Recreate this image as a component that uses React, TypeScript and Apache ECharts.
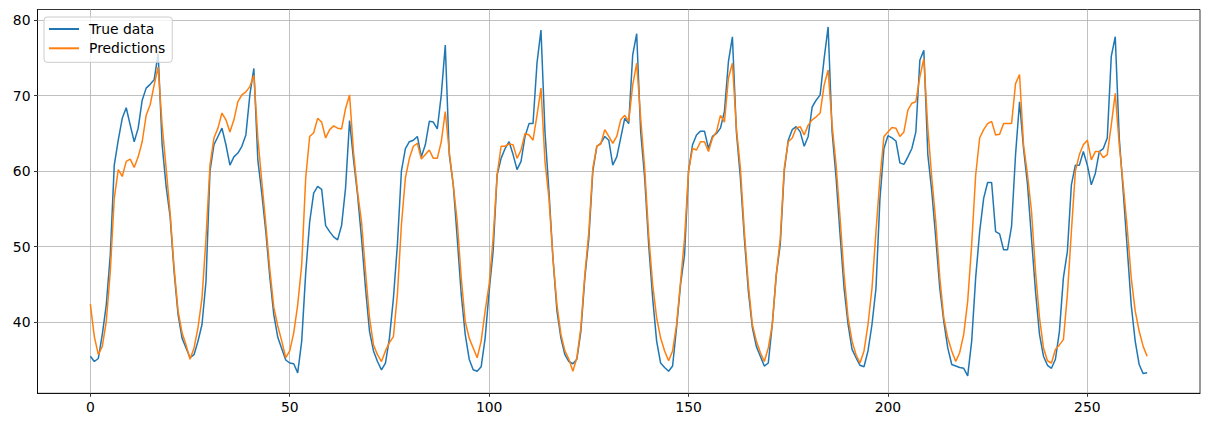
import React, { useEffect, useRef } from "react";
import * as echarts from "echarts";

const seriesNames = ["True data", "Predictions"];

const trueData = [
  35.5, 34.8, 35.2, 38.4, 42.3, 48.9, 60.8, 64.1, 67.0, 68.4,
  66.1, 63.9, 65.7, 69.4, 71.0, 71.5, 72.1, 75.6, 63.5, 58.0,
  54.0, 46.7, 41.0, 37.9, 36.6, 35.3, 35.7, 37.5, 39.7, 45.4,
  60.0, 63.5, 64.6, 65.7, 63.5, 60.8, 61.9, 62.4, 63.3, 64.8,
  70.1, 73.6, 61.5, 57.0, 52.0, 46.0, 41.0, 38.0, 36.5, 35.0,
  34.6, 34.5, 33.3, 37.5, 46.5, 53.3, 57.1, 58.0, 57.6, 52.8,
  52.0, 51.3, 50.9, 52.8, 57.8, 66.7, 61.5, 56.9, 51.1, 44.5,
  38.8, 36.2, 34.8, 33.7, 34.6, 37.9, 43.2, 50.3, 60.0, 63.0,
  63.9, 64.1, 64.6, 61.9, 63.5, 66.6, 66.5, 65.6, 70.1, 76.7,
  62.2, 58.2, 51.1, 43.7, 38.4, 35.1, 33.7, 33.5, 34.1, 37.9,
  44.1, 49.4, 59.5, 61.7, 63.0, 63.9, 62.2, 60.2, 61.3, 64.6,
  66.3, 66.3, 74.3, 78.7, 65.2, 57.3, 48.5, 41.5, 37.9, 35.7,
  34.8, 34.5, 35.1, 38.8, 45.9, 51.1, 60.0, 63.3, 63.7, 64.6,
  64.1, 60.8, 61.9, 64.4, 67.0, 66.3, 75.4, 78.2, 65.2, 59.1,
  50.3, 43.2, 37.5, 34.6, 34.0, 33.5, 34.2, 39.3, 45.0, 48.9,
  60.0, 63.5, 64.8, 65.3, 65.3, 63.0, 64.6, 65.0, 65.7, 67.9,
  74.5, 77.8, 65.2, 59.1, 51.1, 44.1, 39.3, 36.8, 35.5, 34.2,
  34.6, 39.7, 46.3, 50.3, 60.0, 64.1, 65.5, 65.9, 65.2, 63.3,
  64.6, 68.5, 69.4, 70.1, 74.9, 79.1, 65.2, 59.1, 51.6, 44.5,
  39.7, 36.4, 35.3, 34.3, 34.1, 36.2, 39.7, 44.5, 56.4, 63.0,
  64.7, 64.4, 64.0, 61.1, 60.9, 61.9, 63.0, 65.2, 74.7, 76.0,
  62.2, 57.3, 51.1, 44.5, 40.1, 36.6, 34.4, 34.2, 34.0, 33.9,
  32.9, 37.5, 45.9, 52.0, 56.4, 58.5, 58.5, 52.0, 51.7, 49.6,
  49.6, 52.7, 62.2, 69.2, 63.0, 58.2, 51.1, 44.1, 38.4, 35.5,
  34.3, 33.9, 35.1, 38.8, 45.9, 49.4, 58.2, 60.8, 60.8, 62.6,
  60.8, 58.2, 59.7, 62.6, 63.0, 64.4, 75.2, 77.8, 64.4, 57.3,
  49.8, 42.3, 37.5, 34.4, 33.2, 33.3,
];

const predictions = [
  42.4, 38.1, 35.7, 36.8, 40.1, 46.7, 56.4, 60.2, 59.3, 61.3,
  61.6, 60.5, 61.9, 63.9, 67.4, 68.8, 71.4, 73.8, 66.1, 60.4,
  54.5, 47.2, 41.5, 38.6, 37.0, 35.1, 36.6, 39.3, 43.2, 51.1,
  60.8, 64.4, 65.7, 67.7, 66.8, 65.2, 66.8, 69.2, 70.1, 70.5,
  71.2, 72.7, 64.4, 58.6, 53.0, 47.0, 42.0, 39.5, 37.5, 35.3,
  36.2, 38.6, 42.3, 47.6, 59.1, 64.6, 65.1, 67.0, 66.5, 64.4,
  65.5, 66.0, 65.7, 65.6, 68.3, 70.1, 62.5, 57.3, 53.3, 46.7,
  40.6, 37.0, 35.7, 34.8, 36.2, 37.3, 38.1, 43.7, 52.9, 59.1,
  61.7, 63.3, 63.7, 61.6, 62.2, 62.8, 61.7, 61.7, 63.9, 67.9,
  62.6, 58.2, 53.3, 45.9, 40.1, 37.9, 36.6, 35.3, 37.5, 41.5,
  45.0, 51.1, 59.5, 63.3, 63.3, 63.6, 63.5, 61.7, 62.8, 65.0,
  64.8, 64.1, 67.4, 71.0, 61.3, 56.4, 48.5, 42.3, 38.4, 36.2,
  35.1, 33.5, 35.3, 39.3, 46.3, 52.0, 60.4, 63.3, 63.6, 65.5,
  64.6, 63.7, 64.6, 66.8, 67.4, 66.6, 71.4, 74.3, 67.0, 60.4,
  51.6, 45.0, 40.6, 37.9, 36.2, 34.9, 36.2, 39.7, 45.4, 51.1,
  60.0, 63.0, 62.8, 63.9, 63.9, 62.6, 64.4, 65.2, 67.4, 66.5,
  72.3, 74.3, 65.7, 60.4, 52.0, 45.0, 39.7, 37.5, 36.0, 34.8,
  36.6, 39.7, 46.3, 51.1, 60.4, 63.9, 64.4, 65.7, 65.9, 64.8,
  66.1, 66.8, 67.2, 67.7, 71.4, 73.4, 66.1, 60.8, 53.8, 46.3,
  40.6, 37.5, 35.7, 34.6, 36.2, 39.7, 44.5, 52.0, 59.1, 64.6,
  65.2, 65.8, 65.7, 64.6, 65.2, 68.1, 69.0, 69.2, 72.5, 74.9,
  65.7, 59.1, 53.3, 45.9, 40.6, 37.9, 36.2, 34.8, 36.0, 38.4,
  42.8, 50.3, 59.5, 64.4, 65.5, 66.3, 66.6, 64.8, 64.9, 66.3,
  66.3, 66.3, 71.6, 72.8, 63.5, 59.5, 54.7, 46.7, 40.6, 36.6,
  34.9, 34.6, 36.4, 37.0, 37.7, 43.7, 52.0, 60.0, 62.2, 63.5,
  64.1, 61.5, 62.6, 62.6, 61.8, 62.2, 66.1, 70.3, 63.5, 58.2,
  52.5, 45.9, 41.5, 38.8, 36.8, 35.5,
];

const xTicks = [0, 50, 100, 150, 200, 250];
const yTicks = [40, 50, 60, 70, 80];

export default function App() {
  const ref = useRef<HTMLDivElement>(null);

  useEffect(() => {
    if (!ref.current) return;
    const chart = echarts.init(ref.current, null, { renderer: "svg" });
    const font = "DejaVu Sans";
    const black = { color: "#000", width: 0.8 };
    const gridLines = [
      ...xTicks.map((v) => ({ xAxis: v })),
      ...yTicks.map((v) => ({ yAxis: v })),
    ];
    chart.setOption({
      animation: false,
      grid: {
        left: 37.5,
        right: 9,
        top: 9.5,
        bottom: 34.7,
        show: true,
        borderColor: "#000",
        borderWidth: 0.8,
        backgroundColor: "transparent",
      },
      xAxis: {
        type: "value",
        min: -13.25,
        max: 278.25,
        splitLine: { show: false },
        axisLine: { show: true, onZero: false, lineStyle: black },
        axisTick: { show: true, customValues: xTicks, length: 3.5, lineStyle: black },
        axisLabel: {
          customValues: xTicks,
          margin: 7,
          fontSize: 13.9,
          fontFamily: font,
          color: "#000",
        },
      },
      yAxis: {
        type: "value",
        min: 30.59,
        max: 81.41,
        splitLine: { show: false },
        axisLine: { show: true, onZero: false, lineStyle: black },
        axisTick: { show: true, customValues: yTicks, length: 3.5, lineStyle: black },
        axisLabel: {
          customValues: yTicks,
          margin: 7,
          fontSize: 13.9,
          fontFamily: font,
          color: "#000",
        },
      },
      legend: {
        show: true,
        orient: "vertical",
        left: 44,
        top: 17,
        padding: [5, 7, 7, 5],
        itemGap: 5.3,
        itemWidth: 30,
        itemHeight: 2,
        icon: "rect",
        backgroundColor: "rgba(255,255,255,0.8)",
        borderColor: "#cccccc",
        borderWidth: 1,
        borderRadius: 3,
        textStyle: {
          fontSize: 13.9,
          fontFamily: font,
          color: "#000",
          lineHeight: 14,
          padding: [0, 0, 0, 5],
        },
        data: seriesNames,
      },
      series: [
        {
          name: seriesNames[0],
          type: "line",
          data: trueData.map((v, i) => [i, v]),
          showSymbol: false,
          symbol: "none",
          lineStyle: { color: "#1f77b4", width: 1.5 },
          itemStyle: { color: "#1f77b4" },
          z: 3,
          markLine: {
            silent: true,
            z: 1,
            symbol: "none",
            label: { show: false },
            lineStyle: { color: "#b0b0b0", width: 0.8, type: "solid" },
            emphasis: { disabled: true },
            data: gridLines,
          },
        },
        {
          name: seriesNames[1],
          type: "line",
          data: predictions.map((v, i) => [i, v]),
          showSymbol: false,
          symbol: "none",
          lineStyle: { color: "#ff7f0e", width: 1.5 },
          itemStyle: { color: "#ff7f0e" },
          z: 3,
        },
      ],
    });
    return () => chart.dispose();
  }, []);

  return (
    <div
      ref={ref}
      style={{ position: "absolute", left: 0, top: 0, width: 1209, height: 428 }}
    />
  );
}
